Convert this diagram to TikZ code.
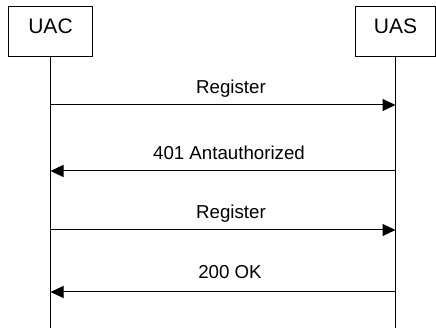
\documentclass[tikz,border=0pt]{standalone}
\usepackage{fontspec}
\setmainfont{Liberation Sans}
\usetikzlibrary{arrows.meta}
\begin{document}
\begin{tikzpicture}[x=1pt,y=-1pt,
  actor/.style={draw, line width=1pt, minimum width=84pt, inner sep=0pt,
    text height=27pt, text depth=23pt, font=\fontsize{21}{21}\selectfont},
  life/.style={line width=1pt},
  msg/.style={line width=1pt, -{Triangle[length=13pt,width=12pt]}},
  lbl/.style={font=\fontsize{18.7}{18.7}\selectfont, anchor=base, inner sep=0pt}]
\useasboundingbox (0,0) rectangle (436,328);
\node[actor] (uac) at (50.5,31.5) {UAC};
\node[actor, minimum width=80pt] (uas) at (395.5,31.5) {UAS};
\coordinate (uacend) at (50.5,328);
\coordinate (uasend) at (395.5,328);
\draw[life] (uac.south) -- (uacend);
\draw[life] (uas.south) -- (uasend);
\coordinate (a1) at (50.5,105);  \coordinate (b1) at (395.5,105);
\coordinate (a2) at (50.5,171);  \coordinate (b2) at (395.5,171);
\coordinate (a3) at (50.5,230);  \coordinate (b3) at (395.5,230);
\coordinate (a4) at (50.5,292);  \coordinate (b4) at (395.5,292);
\draw[msg] (a1) -- (b1);
\draw[msg] (b2) -- (a2);
\draw[msg] (a3) -- (b3);
\draw[msg] (b4) -- (a4);
\node[lbl] (l1) at (231,94) {Register};
\node[lbl] (l2) at (229,160) {401 Antauthorized};
\node[lbl] (l3) at (231,219) {Register};
\node[lbl] (l4) at (230,279) {200 OK};
\end{tikzpicture}
\end{document}
